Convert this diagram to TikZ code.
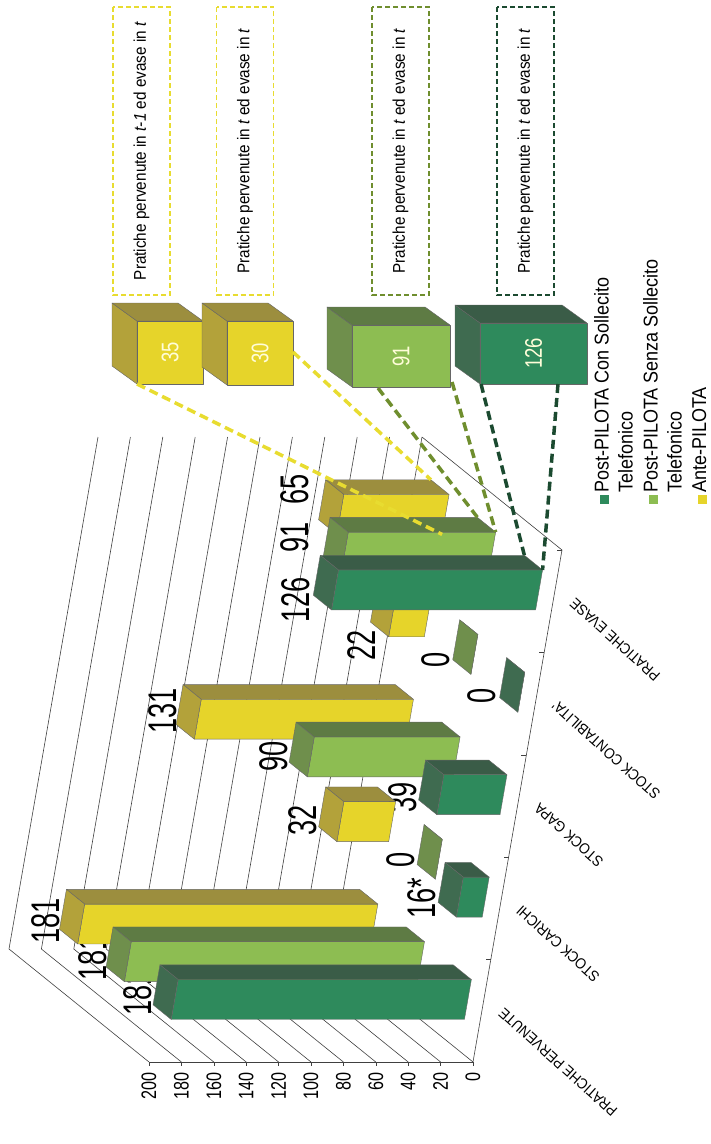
\documentclass[tikz,border=0pt]{standalone}
\usepackage{fontspec}
\setmainfont{Liberation Sans}
\newfontfamily\narrowsf[FakeStretch=0.9]{Liberation Sans}
\newfontfamily\ticksf[FakeStretch=0.77]{Liberation Sans}
\newfontfamily\condsf[FakeStretch=0.68]{Liberation Sans}

\definecolor{dkfront}{HTML}{2E8A5C}
\definecolor{dktop}{HTML}{3A5C47}
\definecolor{dkside}{HTML}{3F6B50}
\definecolor{ltfront}{HTML}{8DBD52}
\definecolor{lttop}{HTML}{5E7B44}
\definecolor{ltside}{HTML}{6F8F4C}
\definecolor{ylfront}{HTML}{E6D42A}
\definecolor{yltop}{HTML}{9C8E3E}
\definecolor{ylside}{HTML}{B3A23A}
\definecolor{ylline}{HTML}{E8DC30}
\definecolor{ltline}{HTML}{6F8E2E}
\definecolor{dkline}{HTML}{1B4A30}

\tikzset{
  grid line/.style={black!75, line width=0.6pt},
  bar edge/.style={draw=black!60, line width=0.4pt, line join=round},
  value label/.style={rotate=90, inner sep=0pt, font=\condsf\fontsize{40}{40}\selectfont},
  tick label/.style={rotate=90, anchor=east, inner sep=0pt, font=\ticksf\fontsize{21}{21}\selectfont},
  cat label/.style={rotate=138, anchor=east, inner sep=0pt, font=\narrowsf\fontsize{15}{15}\selectfont},
  note box/.style={rotate=90, dash pattern=on 5pt off 3pt, line width=1.5pt, minimum width=288pt, minimum height=57pt, inner sep=0pt, font=\narrowsf\fontsize{17}{17}\selectfont},
  link/.style={line width=3.5pt, dash pattern=on 9pt off 5pt},
  cube label/.style={rotate=90, text=white!85!yellow, font=\ticksf\fontsize{24}{24}\selectfont},
  legend mark/.style={minimum size=9pt, inner sep=0pt},
  legend text/.style={rotate=90, anchor=north west, align=left, inner sep=0pt, font=\narrowsf\fontsize{20}{24}\selectfont},
}

% bar: value, category, front depth, series
\newcommand{\pilotbar}[4]{%
  \pgfmathsetmacro\cbot{0.2*#2+0.061}%
  \pgfmathsetmacro\ctop{\cbot+0.078}%
  \pgfmathsetmacro\dback{#3+0.13}%
  \filldraw[bar edge, fill=#4front] (0,\cbot,#3) -- (#1,\cbot,#3) -- (#1,\ctop,#3) -- (0,\ctop,#3) -- cycle;
  \filldraw[bar edge, fill=#4top] (0,\ctop,#3) -- (#1,\ctop,#3) -- (#1,\ctop,\dback) -- (0,\ctop,\dback) -- cycle;
  \filldraw[bar edge, fill=#4side] (#1,\cbot,#3) -- (#1,\ctop,#3) -- (#1,\ctop,\dback) -- (#1,\cbot,\dback) -- cycle;
}

% cube: left, right, top, bottom of the front face, series, text, name
\newcommand{\pilotcube}[7]{%
  \filldraw[bar edge, fill=#5side] (#1,#3) -- (#1-25,#3-18) -- (#1-25,#4-18) -- (#1,#4) -- cycle;
  \filldraw[bar edge, fill=#5top] (#1,#3) -- (#1-25,#3-18) -- (#2-25,#3-18) -- (#2,#3) -- cycle;
  \filldraw[bar edge, fill=#5front] (#1,#3) rectangle (#2,#4);
  \node[cube label] (#7) at ({(#1+#2)/2},{(#3+#4)/2}) {#6};
}

\begin{document}
\begin{tikzpicture}[x=1pt, y=-1pt]
\useasboundingbox (0,0) rectangle (710,1144);

\begin{scope}[shift={(473,1062)}, x={(-1.62pt,0pt)}, y={(89pt,512pt)}, z={(-140pt,113pt)}]
% walls and floor
\foreach \v in {0,20,...,200} {
  \draw[grid line] (\v,0,0) -- (\v,0,1) -- (\v,1,1);
  \draw[grid line] (\v,0,0) -- ++(0pt,-4pt);
  \path (\v,0,0) ++(0pt,-10pt) node[tick label] (t\v) {\v};
}
\draw[grid line] (0,0,0) -- (200,0,0);
\draw[grid line] (0,0,0) -- (0,1,0) -- (0,1,1);
\foreach \c in {0,0.2,0.4,0.6,0.8,1}
  \draw[grid line] (0,\c,0) -- ++(-5pt,0pt);
\end{scope}

% data labels
\node[value label] (yl0) at (46,921) {181};
\node[value label] (lt0) at (93,958) {181};
\node[value label] (dk0) at (138,993) {181};
\node[value label] (yl1) at (303,820) {32};
\node[value label] (lt1) at (401,860) {0};
\node[value label] (dk1) at (422,898) {16*};
\node[value label] (yl2) at (163,711) {131};
\node[value label] (lt2) at (274,756) {90};
\node[value label] (dk2) at (403,797) {39};
\node[value label] (yl3) at (362,645) {22};
\node[value label] (lt3) at (436,660) {0};
\node[value label] (dk3) at (482,696) {0};
\node[value label] (yl4) at (295,489) {65};
\node[value label] (lt4) at (295,537) {91};
\node[value label] (dk4) at (296,600) {126};

\begin{scope}[shift={(473,1062)}, x={(-1.62pt,0pt)}, y={(89pt,512pt)}, z={(-140pt,113pt)}]
% series: Ante-PILOTA (back), Senza Sollecito, Con Sollecito (front)
\pilotbar{181}{0}{0.768}{yl}
\pilotbar{32}{1}{0.768}{yl}
\pilotbar{131}{2}{0.768}{yl}
\pilotbar{22}{3}{0.768}{yl}
\pilotbar{65}{4}{0.768}{yl}

\pilotbar{181}{0}{0.435}{lt}
\pilotbar{0}{1}{0.435}{lt}
\pilotbar{90}{2}{0.435}{lt}
\pilotbar{0}{3}{0.435}{lt}
\pilotbar{91}{4}{0.435}{lt}

\pilotbar{181}{0}{0.1}{dk}
\pilotbar{16}{1}{0.1}{dk}
\pilotbar{39}{2}{0.1}{dk}
\pilotbar{0}{3}{0.1}{dk}
\pilotbar{126}{4}{0.1}{dk}

\coordinate (yl-back) at (0,0.939,0.898);
\coordinate (yl-low) at (0,0.861,0.768);
\coordinate (lt-back) at (0,0.939,0.565);
\coordinate (lt-front) at (0,0.939,0.435);
\coordinate (dk-back) at (0,0.939,0.23);
\coordinate (dk-front) at (0,0.939,0.1);

\foreach \name [count=\i from 0] in {PRATICHE PERVENUTE, STOCK CARICHI, STOCK GAPA, STOCK CONTABILITA', PRATICHE EVASE}
  \path (0,0.2*\i+0.1,0) ++(19pt,0pt) node[cat label] (cat\i) {\name};
\end{scope}

% zoomed cubes for PRATICHE EVASE
\pilotcube{137}{203}{321}{384}{yl}{35}{c35}
\pilotcube{227}{293}{321}{385}{yl}{30}{c30}
\pilotcube{352}{450}{325}{387}{lt}{91}{c91}
\pilotcube{480}{587}{323}{384}{dk}{126}{c126}

\node[note box, draw=ylline] (box1) at (141.5,151) {Pratiche pervenute in \textit{t-1} ed evase in \textit{t}};
\node[note box, draw=ylline] (box2) at (245,151) {Pratiche pervenute in \textit{t} ed evase in \textit{t}};
\node[note box, draw=ltline] (box3) at (400.5,151) {Pratiche pervenute in \textit{t} ed evase in \textit{t}};
\node[note box, draw=dkline] (box4) at (525.5,151) {Pratiche pervenute in \textit{t} ed evase in \textit{t}};

\coordinate (c35-foot) at (137,384);
\coordinate (c30-side) at (293,352);
\coordinate (c91-footl) at (378,388);
\coordinate (c91-footr) at (452,382);
\coordinate (c126-footl) at (481,384);
\coordinate (c126-footr) at (558,384);

\draw[link, ylline] (c35-foot) -- (yl-low);
\draw[link, ylline] (c30-side) -- (yl-back);
\draw[link, ltline] (c91-footl) -- (lt-back);
\draw[link, ltline] (c91-footr) -- (lt-front);
\draw[link, dkline] (c126-footl) -- (dk-back);
\draw[link, dkline] (c126-footr) -- (dk-front);

% legend
\node[legend mark, fill=dkfront] (m1) at (604,499) {};
\node[legend mark, fill=ltfront] (m2) at (653,499) {};
\node[legend mark, fill=ylfront] (m3) at (702,499) {};
\node[legend text] (l1) at (594,493) {Post-PILOTA Con Sollecito\\Telefonico};
\node[legend text] (l2) at (643,493) {Post-PILOTA Senza Sollecito\\Telefonico};
\node[legend text] (l3) at (692,493) {Ante-PILOTA};
\end{tikzpicture}
\end{document}
